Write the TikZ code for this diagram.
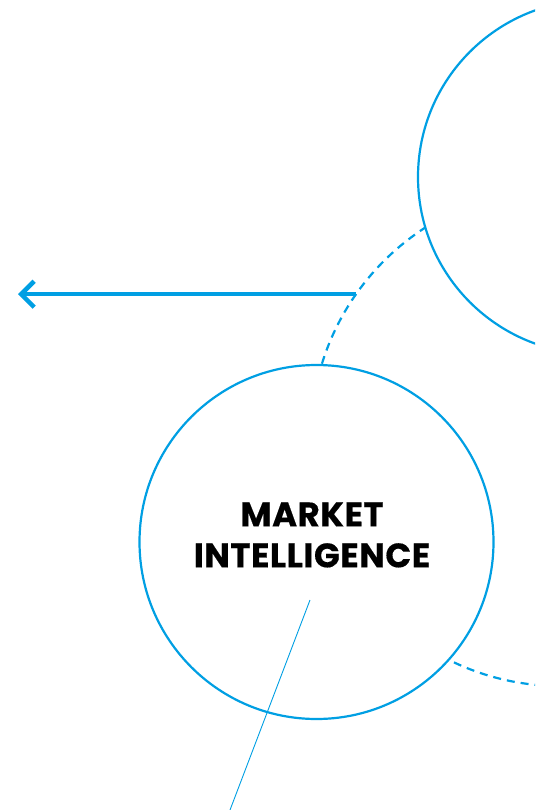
\documentclass[tikz,border=0pt]{standalone}
\usepackage{fontspec}
\newfontfamily\labelfont{Poppins}[UprightFont=* Bold, LetterSpace=1.5, FakeBold=0.4]
\usetikzlibrary{arrows.meta}
\definecolor{mblue}{HTML}{009FE3}
\tikzset{
  ring/.style={circle, draw=mblue, fill=white, line width=2.2pt, inner sep=0pt, outer sep=0pt, minimum size=#1},
  dashring/.style={circle, draw=mblue, dash pattern=on 8pt off 6pt, line width=2.2pt, inner sep=0pt, outer sep=0pt, minimum size=#1},
  arrowline/.style={draw=mblue, line width=4pt, -{Straight Barb[length=13pt,width=26pt,line width=4.5pt]}},
  thinline/.style={draw=mblue, line width=0.9pt},
  title/.style={align=center, font=\labelfont\fontsize{34}{41}\selectfont, text=black}
}
\begin{document}
\begin{tikzpicture}[x=1pt,y=-1pt]
\useasboundingbox (0,0) rectangle (535,810);
\begin{scope}
\clip (0,0) rectangle (535,810);
\node[dashring=498pt] (dc) at (560,437) {};
\node[ring=354pt] (uc) at (595,177) {};
\node[ring=354pt] (mc) at (316.5,542) {};
\end{scope}
\coordinate (tip) at (18,294);
\draw[arrowline] (dc.145.5) -- (tip |- dc.145.5);
\node[title] (lbl) at (312,535) {MARKET\\INTELLIGENCE};
\coordinate (ta) at (310,600);
\coordinate (tb) at (230,810);
\draw[thinline] (ta) -- (tb);
\end{tikzpicture}
\end{document}
